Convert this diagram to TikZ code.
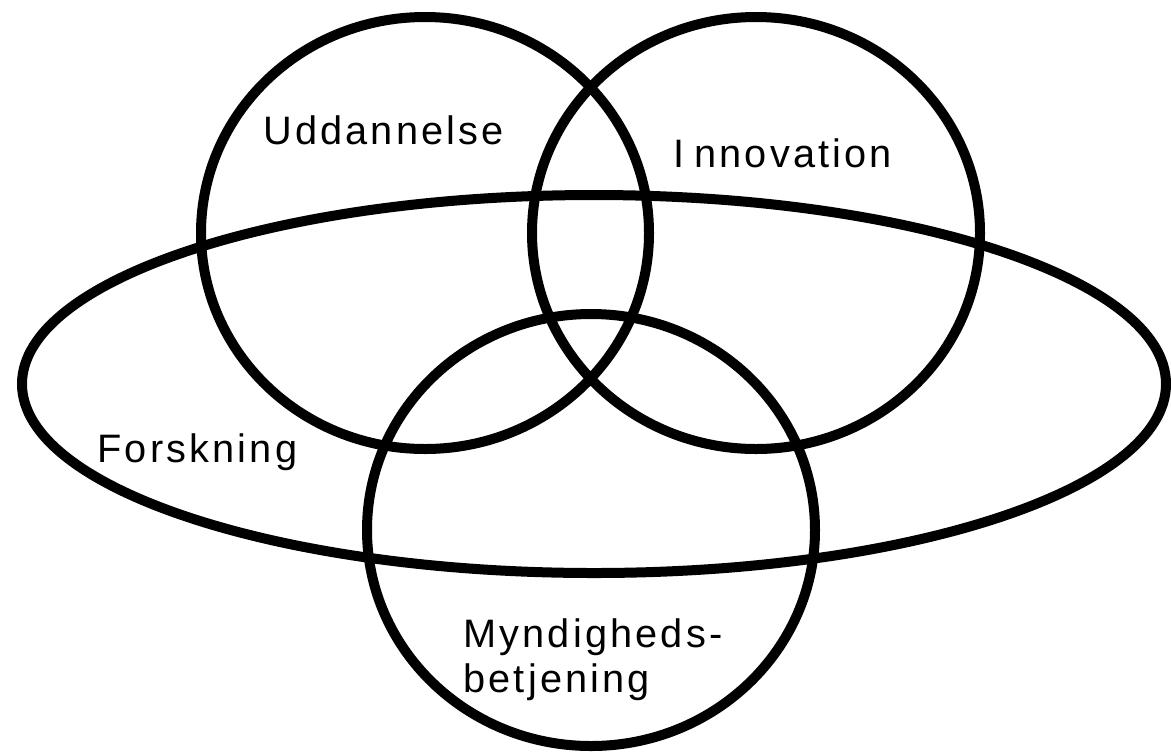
\documentclass[tikz,border=0pt]{standalone}
\usepackage{fontspec}
\newfontfamily\vennfont{Liberation Sans}[LetterSpace=8]
\usetikzlibrary{shapes.geometric}

\begin{document}
\begin{tikzpicture}[
    set/.style={ellipse,draw=black,line width=0.2cm,inner sep=0pt},
    circ/.style={set,minimum width=8.96cm,minimum height=8.64cm},
    lbl/.style={anchor=base west,inner sep=0pt,font=\vennfont\fontsize{22.6}{25.6}\selectfont}
  ]
        \useasboundingbox (0,0) rectangle (23.42,-15.06);

        % Large ellipse
        \node[set,minimum width=22.88cm,minimum height=7.56cm] (forsk) at (11.88,-7.68) {};

        % Circles
        \node[circ] (udd) at (8.50,-4.66) {};
        \node[circ] (innov) at (15.12,-4.66) {};
        \node[circ] (myn) at (11.82,-10.60) {};

        % Labels
        \node[lbl] (uddLabel) at (5.26,-2.88) {Uddannelse};
        \node[lbl] (innovLabel) at (13.46,-3.34) {I\hspace{0.25em}nnovation};
        \node[lbl] (forskLabel) at (1.94,-9.24) {Forskning};
        \node[lbl,align=left] (mynLabel) at (9.26,-13.84) {Myndigheds-\\betjening};

    \end{tikzpicture}
\end{document}
